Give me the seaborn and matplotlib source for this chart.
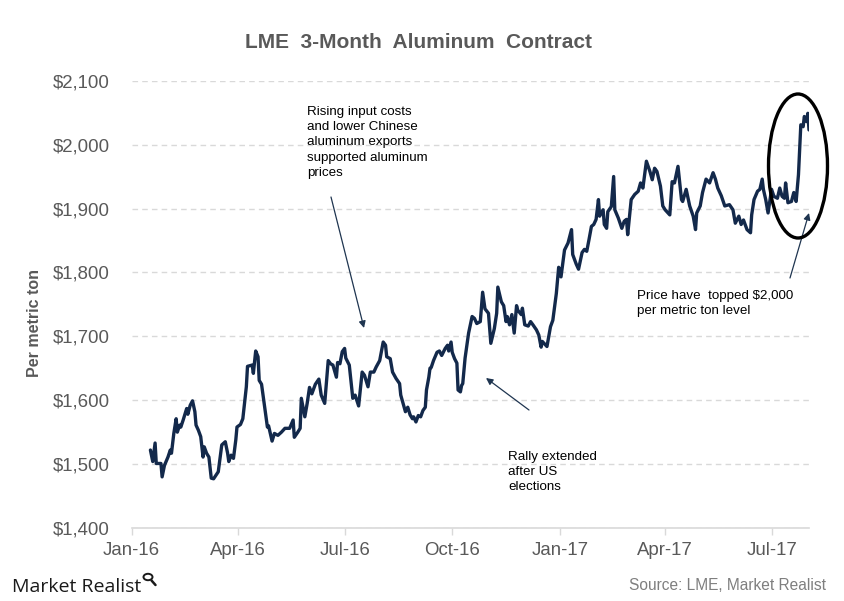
import matplotlib
matplotlib.use("Agg")
import matplotlib.pyplot as plt
import matplotlib.dates as mdates
import matplotlib.ticker as mticker
from matplotlib.patches import Ellipse, Circle
from matplotlib.lines import Line2D
import pandas as pd
import seaborn as sns

# ---------------- data ----------------
dates = [
    "2016-01-17", "2016-01-19", "2016-01-21", "2016-01-22", "2016-01-26", "2016-01-27", "2016-01-29",
    "2016-02-01", "2016-02-03", "2016-02-04", "2016-02-06", "2016-02-08", "2016-02-09", "2016-02-11",
    "2016-02-12", "2016-02-14", "2016-02-17", "2016-02-18", "2016-02-20", "2016-02-22", "2016-02-24",
    "2016-02-25", "2016-02-27", "2016-02-29", "2016-03-02", "2016-03-03", "2016-03-05", "2016-03-07",
    "2016-03-09", "2016-03-11", "2016-03-15", "2016-03-18", "2016-03-21", "2016-03-23", "2016-03-24",
    "2016-03-26", "2016-03-28", "2016-03-30", "2016-03-31", "2016-04-03", "2016-04-05", "2016-04-08",
    "2016-04-09", "2016-04-13", "2016-04-14", "2016-04-16", "2016-04-18", "2016-04-19", "2016-04-21",
    "2016-04-23", "2016-04-26", "2016-04-27", "2016-04-30", "2016-05-02", "2016-05-05", "2016-05-08",
    "2016-05-11", "2016-05-15", "2016-05-18", "2016-05-19", "2016-05-22", "2016-05-24", "2016-05-25",
    "2016-05-28", "2016-05-30", "2016-06-01", "2016-06-03", "2016-06-06", "2016-06-09", "2016-06-11",
    "2016-06-14", "2016-06-17", "2016-06-19", "2016-06-21", "2016-06-24", "2016-06-25", "2016-06-27",
    "2016-06-29", "2016-07-01", "2016-07-02", "2016-07-05", "2016-07-08", "2016-07-10", "2016-07-13",
    "2016-07-16", "2016-07-18", "2016-07-21", "2016-07-23", "2016-07-26", "2016-07-28", "2016-07-31",
    "2016-08-03", "2016-08-05", "2016-08-06", "2016-08-09", "2016-08-11", "2016-08-14", "2016-08-17",
    "2016-08-18", "2016-08-20", "2016-08-22", "2016-08-24", "2016-08-26", "2016-08-28", "2016-08-29",
    "2016-08-31", "2016-09-02", "2016-09-04", "2016-09-06", "2016-09-08", "2016-09-09", "2016-09-11",
    "2016-09-12", "2016-09-13", "2016-09-15", "2016-09-18", "2016-09-20", "2016-09-22", "2016-09-25",
    "2016-09-27", "2016-09-28", "2016-09-30", "2016-10-01", "2016-10-03", "2016-10-05", "2016-10-06",
    "2016-10-08", "2016-10-09", "2016-10-10", "2016-10-12", "2016-10-15", "2016-10-18", "2016-10-20",
    "2016-10-22", "2016-10-25", "2016-10-27", "2016-10-29", "2016-11-01", "2016-11-03", "2016-11-06",
    "2016-11-08", "2016-11-09", "2016-11-12", "2016-11-14", "2016-11-16", "2016-11-17", "2016-11-19",
    "2016-11-21", "2016-11-23", "2016-11-25", "2016-11-26", "2016-11-29", "2016-11-30", "2016-12-02",
    "2016-12-05", "2016-12-07", "2016-12-09", "2016-12-12", "2016-12-14", "2016-12-16", "2016-12-17",
    "2016-12-21", "2016-12-23", "2016-12-24", "2016-12-26", "2016-12-29", "2016-12-31",
    "2017-01-02", "2017-01-05", "2017-01-08", "2017-01-11", "2017-01-12", "2017-01-15", "2017-01-17",
    "2017-01-20", "2017-01-22", "2017-01-24", "2017-01-26", "2017-01-28", "2017-01-30", "2017-02-01",
    "2017-02-03", "2017-02-04", "2017-02-07", "2017-02-08", "2017-02-10", "2017-02-11", "2017-02-14",
    "2017-02-16", "2017-02-17", "2017-02-20", "2017-02-23", "2017-02-25", "2017-02-27", "2017-02-28",
    "2017-03-03", "2017-03-06", "2017-03-09", "2017-03-11", "2017-03-13", "2017-03-16", "2017-03-19",
    "2017-03-21", "2017-03-23", "2017-03-25", "2017-03-28", "2017-03-30", "2017-04-01", "2017-04-05",
    "2017-04-07", "2017-04-09", "2017-04-12", "2017-04-15", "2017-04-16", "2017-04-19", "2017-04-22",
    "2017-04-25", "2017-04-27", "2017-04-28", "2017-05-01", "2017-05-03", "2017-05-06", "2017-05-09",
    "2017-05-12", "2017-05-14", "2017-05-16", "2017-05-19", "2017-05-22", "2017-05-26", "2017-05-29",
    "2017-05-31", "2017-06-03", "2017-06-05", "2017-06-07", "2017-06-10", "2017-06-13", "2017-06-14",
    "2017-06-16", "2017-06-19", "2017-06-21", "2017-06-23", "2017-06-24", "2017-06-26", "2017-06-28",
    "2017-07-01", "2017-07-03", "2017-07-06", "2017-07-08", "2017-07-10", "2017-07-12", "2017-07-13",
    "2017-07-15", "2017-07-18", "2017-07-20", "2017-07-22", "2017-07-24", "2017-07-26", "2017-07-28",
    "2017-07-29", "2017-07-31", "2017-08-01", "2017-08-02",
]

prices = [
    1522, 1504, 1533, 1501, 1501, 1480, 1498,
    1511, 1522, 1517, 1548, 1571, 1550, 1561,
    1558, 1569, 1587, 1578, 1592, 1599, 1582,
    1561, 1553, 1543, 1511, 1527, 1517, 1511,
    1478, 1477, 1488, 1530, 1535, 1517, 1504,
    1514, 1509, 1538, 1558, 1562, 1571, 1621,
    1653, 1655, 1642, 1677, 1668, 1631, 1625,
    1598, 1558, 1560, 1536, 1548, 1545, 1550,
    1556, 1556, 1569, 1542, 1550, 1556, 1603,
    1574, 1595, 1620, 1610, 1625, 1633, 1608,
    1595, 1662, 1657, 1655, 1636, 1659, 1657,
    1676, 1681, 1666, 1655, 1603, 1608, 1591,
    1644, 1639, 1621, 1644, 1644, 1652, 1662,
    1691, 1686, 1668, 1665, 1644, 1634, 1626,
    1608, 1595, 1582, 1589, 1577, 1571, 1574,
    1566, 1576, 1574, 1584, 1589, 1616, 1636,
    1650, 1651, 1662, 1675, 1677, 1670, 1681,
    1686, 1677, 1691, 1675, 1665, 1658, 1616,
    1613, 1623, 1626, 1666, 1705, 1731, 1728,
    1720, 1723, 1769, 1743, 1736, 1689, 1712,
    1736, 1777, 1754, 1748, 1723, 1731, 1718,
    1734, 1705, 1748, 1741, 1734, 1744, 1718,
    1716, 1723, 1718, 1710, 1702, 1683, 1692,
    1684, 1705, 1715, 1725, 1767, 1808,
    1793, 1835, 1846, 1867, 1828, 1813, 1805,
    1831, 1836, 1833, 1852, 1872, 1875, 1883,
    1914, 1888, 1898, 1875, 1869, 1895, 1903,
    1950, 1898, 1885, 1869, 1880, 1883, 1859,
    1914, 1922, 1927, 1940, 1932, 1974, 1958,
    1945, 1963, 1958, 1935, 1904, 1898, 1890,
    1942, 1940, 1966, 1914, 1911, 1930, 1904,
    1888, 1867, 1893, 1904, 1925, 1946, 1940,
    1956, 1946, 1932, 1920, 1904, 1906, 1898,
    1877, 1888, 1875, 1882, 1867, 1862, 1890,
    1914, 1927, 1930, 1946, 1930, 1914, 1893,
    1930, 1919, 1916, 1932, 1919, 1916, 1940,
    1909, 1911, 1925, 1911, 1953, 2031, 2028,
    2044, 2036, 2049, 2023,
]

y_ticks = [1400, 1500, 1600, 1700, 1800, 1900, 2000, 2100]
title = "LME  3-Month  Aluminum  Contract"
y_label = "Per metric ton"
note_inputs = "Rising input costs\nand lower Chinese\naluminum exports\nsupported aluminum\nprices"
note_rally = "Rally extended\nafter US\nelections"
note_top = "Price have  topped $2,000\nper metric ton level"
source = "Source: LME, Market Realist"
brand = "Market Realist"

# ---------------- style ----------------
sns.set_theme(style="white")
plt.rcParams["font.family"] = ["Liberation Sans", "DejaVu Sans"]

W, H = 845, 601
fig = plt.figure(figsize=(W / 100, H / 100), dpi=100)
fig.patch.set_facecolor("white")


def fp(x, y):
    """pixel position (from top-left) -> figure fraction"""
    return (x / W, 1 - y / H)


ax_left, ax_right, ax_top, ax_bottom = 131.7, 809.0, 80.7, 528.0
ax = fig.add_axes([ax_left / W, 1 - ax_bottom / H,
                   (ax_right - ax_left) / W, (ax_bottom - ax_top) / H])
ax.set_facecolor("white")

df = pd.DataFrame({"date": pd.to_datetime(dates), "price": prices})
sns.lineplot(data=df, x="date", y="price", ax=ax, color="#13294b", lw=2.4)

ax.set_xlim(pd.Timestamp("2016-01-01"), df["date"].iloc[-1])
ax.set_ylim(y_ticks[0], y_ticks[-1])
ax.set_yticks(y_ticks)
ax.yaxis.set_major_formatter(mticker.StrMethodFormatter("${x:,.0f}"))
ax.xaxis.set_major_locator(mdates.MonthLocator(bymonth=[1, 4, 7, 10]))
ax.xaxis.set_major_formatter(mdates.DateFormatter("%b-%y"))

ax.grid(True, axis="y", color="#d9d9d9", lw=1, linestyle=(0, (4, 3)))
ax.grid(False, axis="x")
ax.set_axisbelow(True)
for s in ("top", "right", "left"):
    ax.spines[s].set_visible(False)
ax.spines["bottom"].set_color("#d9d9d9")
ax.spines["bottom"].set_linewidth(1.2)

ax.tick_params(axis="x", length=5, width=1, color="#d9d9d9", direction="out",
               labelsize=13.4, labelcolor="#595959", pad=5, bottom=True)
ax.tick_params(axis="y", length=0, labelsize=13.4, labelcolor="#595959", pad=16)

ax.set_xlabel("")
ax.set_ylabel(y_label, fontsize=11.5, fontweight="bold", color="#595959")
ax.yaxis.set_label_coords((42 - ax_left) / (ax_right - ax_left),
                          (ax_bottom - 323) / (ax_bottom - ax_top))

# ---------------- title & texts ----------------
fig.text(*fp(419, 42), title, ha="center", va="center", fontsize=15,
         fontweight="bold", color="#595959")

txt_kw = dict(fontsize=9.6, color="#000000", ha="left", va="top", linespacing=1.36)
fig.text(*fp(307, 106), note_inputs, **txt_kw)
fig.text(*fp(508, 451), note_rally, **txt_kw)
fig.text(*fp(637, 290), note_top, **txt_kw)

arrow_kw = dict(arrowstyle="-|>", color="#1f3550", lw=0.9, mutation_scale=10,
                shrinkA=0, shrinkB=0)
for tail, head in [((331, 197), (364, 328)),
                   ((529, 410), (486, 378)),
                   ((790, 278), (809, 213))]:
    ax.annotate("", xy=fp(*head), xytext=fp(*tail), xycoords="figure fraction",
                textcoords="figure fraction", arrowprops=arrow_kw,
                annotation_clip=False)

fig.add_artist(Ellipse(fp(798, 166), 59 / W, 144 / H, transform=fig.transFigure,
                       fill=False, ec="black", lw=2.4))

fig.text(*fp(826, 585), source, ha="right", va="center", fontsize=11.2,
         color="#7f7f7f")

# brand mark
fig.text(*fp(12, 587), brand, ha="left", va="center", fontsize=14,
         family=["Open Sans", "DejaVu Sans"], color="#1a1a1a")
fig.add_artist(Circle(fp(148, 577), 4.5 / W, transform=fig.transFigure,
                      fill=False, ec="#1a1a1a", lw=1.4))
fig.add_artist(Line2D([151.5 / W, 155.5 / W], [1 - 580.5 / H, 1 - 585 / H],
                      transform=fig.transFigure, color="#1a1a1a", lw=1.8))

fig.savefig("out.png", dpi=100, facecolor="white")
